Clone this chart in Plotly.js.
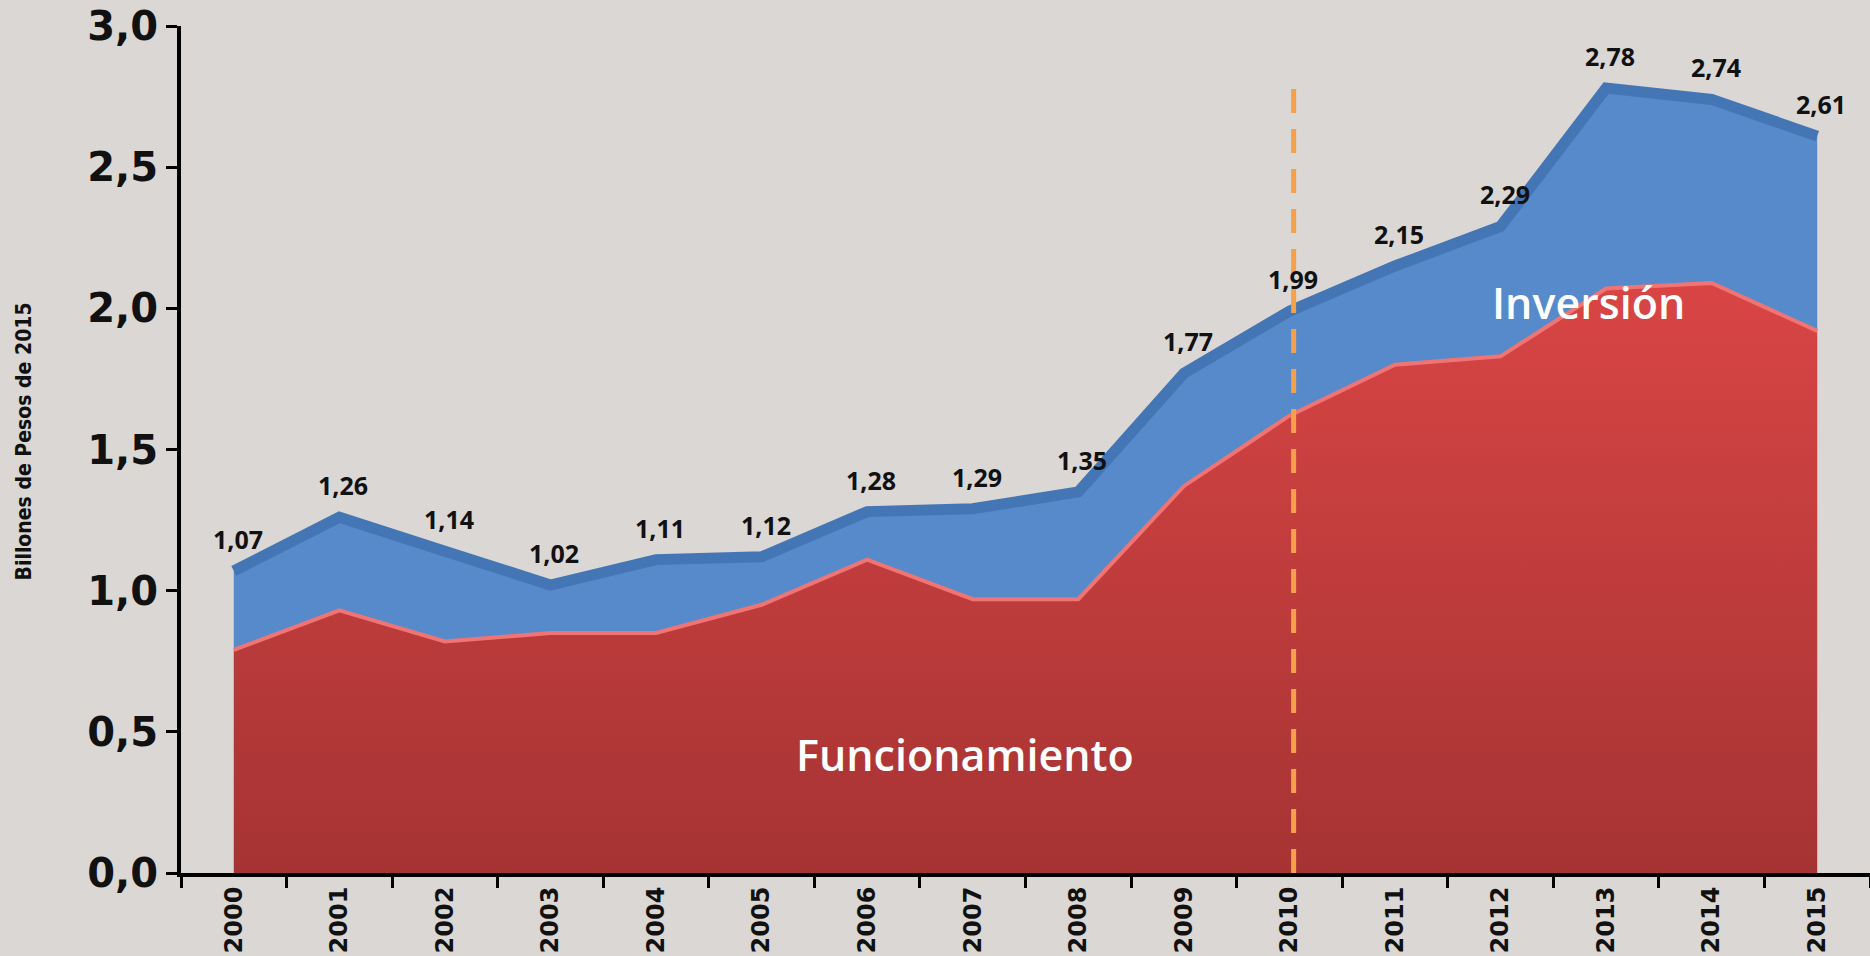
<!DOCTYPE html>
<html>
<head>
<meta charset="utf-8">
<script src="https://cdn.plot.ly/plotly-3.0.1.min.js"></script>
<style>
  html, body { margin: 0; padding: 0; background: #d9d6d3; }
  #chart { width: 1870px; height: 956px; }
</style>
</head>
<body>
<div id="chart"></div>
<script>
let years = ['2000','2001','2002','2003','2004','2005','2006','2007','2008','2009','2010','2011','2012','2013','2014','2015'];
let total = [1.07,1.26,1.14,1.02,1.11,1.12,1.28,1.29,1.35,1.77,1.99,2.15,2.29,2.78,2.74,2.61];
let funcionamiento = [0.79,0.93,0.82,0.85,0.85,0.95,1.11,0.97,0.97,1.37,1.62,1.80,1.83,2.07,2.09,1.92];
let yTicks = [0,0.5,1,1.5,2,2.5,3];

let redTrace = {
  x: years,
  y: funcionamiento,
  type: 'scatter',
  mode: 'lines',
  fill: 'tozeroy',
  fillgradient: {
    type: 'vertical',
    start: 0,
    stop: 2.1,
    colorscale: [[0, '#a63333'], [1, '#d94545']]
  },
  line: {color: '#f07474', width: 4},
  hoverinfo: 'skip'
};

let blueTrace = {
  x: years,
  y: total,
  type: 'scatter',
  mode: 'lines',
  fill: 'tonexty',
  fillcolor: '#568acb',
  line: {color: '#4476b6', width: 11},
  hoverinfo: 'skip'
};

// category axis: place notes by index so '2000' is not read as a number
let notes = [];
for (let i = 0; i < years.length; i++) {
  notes.push({
    x: i,
    y: total[i],
    text: total[i].toFixed(2).replace('.', ','),
    showarrow: false,
    yshift: 32,
    xshift: 4,
    font: {family: 'Open Sans', size: 25, color: '#111', weight: 700}
  });
}
notes.push({
  x: 7, y: 0.42, xshift: -8,
  text: 'Funcionamiento', showarrow: false,
  font: {family: 'Open Sans', size: 43, color: '#ffffff', weight: 600}
});
notes.push({
  x: 13, y: 2.02, xshift: -18,
  text: 'Inversión', showarrow: false,
  font: {family: 'Open Sans', size: 43, color: '#ffffff', weight: 600}
});
notes.push({
  xref: 'paper', yref: 'paper', x: -0.101, y: 0.51,
  text: 'Billones de Pesos de 2015', textangle: -90, showarrow: false,
  font: {family: 'Liberation Sans Narrow, DejaVu Sans Condensed, Roboto Condensed, Roboto, sans-serif',
         size: 21, color: '#111', weight: 700}
});

let layout = {
  width: 1870,
  height: 956,
  margin: {l: 181, r: 0, t: 26, b: 83},
  paper_bgcolor: '#dad7d4',
  plot_bgcolor: '#dad7d4',
  showlegend: false,
  separators: ',.',
  xaxis: {
    type: 'category',
    range: [-0.5, 15.5],
    tickson: 'boundaries',
    ticks: 'outside',
    ticklen: 11,
    tickwidth: 3,
    tickcolor: '#000',
    showline: true,
    linecolor: '#000',
    linewidth: 4,
    showgrid: false,
    tickangle: -90,
    tickfont: {family: 'DejaVu Sans', size: 24, color: '#111', weight: 700}
  },
  yaxis: {
    range: [0, 3],
    tickvals: yTicks,
    tickformat: '.1f',
    ticks: 'outside',
    ticklen: 11,
    tickwidth: 3,
    tickcolor: '#000',
    showline: true,
    linecolor: '#000',
    linewidth: 4,
    showgrid: false,
    zeroline: false,
    tickfont: {family: 'DejaVu Sans', size: 40, color: '#111', weight: 700}
  },
  shapes: [{
    type: 'line',
    xref: 'x', yref: 'y',
    x0: 10.04, x1: 10.04,
    y0: 0, y1: 2.78,
    line: {color: '#f5a04a', width: 5, dash: '24px,16px'}
  }],
  annotations: notes
};

Plotly.newPlot('chart', [redTrace, blueTrace], layout, {displayModeBar: false});
</script>
</body>
</html>
